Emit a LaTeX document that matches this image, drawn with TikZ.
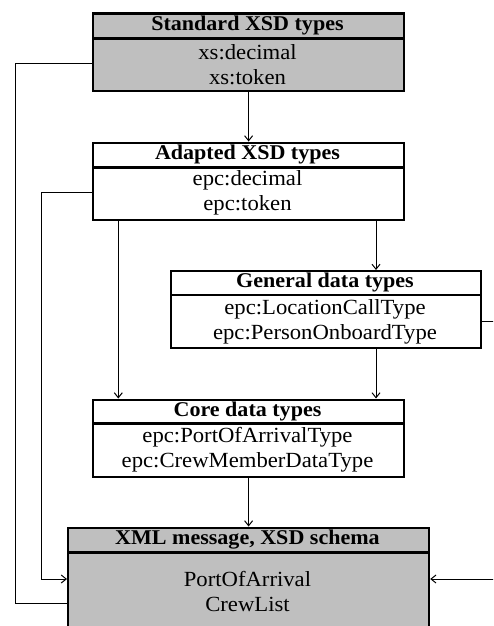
\documentclass[tikz,border=0pt]{standalone}
\usepackage{fontspec}
\setmainfont{Liberation Serif}[FakeStretch=1.05]
\usetikzlibrary{arrows.meta,calc}
\definecolor{grayfill}{RGB}{191,191,191}
\begin{document}
\begin{tikzpicture}[x=1pt,y=-1pt,
  boxframe/.style={draw=black, line width=2.2pt, inner sep=0pt, anchor=north west},
  sepline/.style={draw=black, line width=2.2pt},
  conn/.style={draw=black, line width=1pt},
  arr/.style={conn, -{Straight Barb[length=5pt,width=8pt]}},
  ttl/.style={font=\fontsize{21}{25}\selectfont\bfseries, inner sep=0pt},
  txt/.style={font=\fontsize{21.6}{25}\selectfont, inner sep=0pt}]
\useasboundingbox (0,0) rectangle (493,626);
\clip (0,0) rectangle (493,626);

% boxes
\node[boxframe, fill=grayfill, minimum width=311pt, minimum height=77pt] (std) at (92,12.5) {};
\node[boxframe, fill=white, minimum width=311pt, minimum height=77pt] (adp) at (92,141.5) {};
\node[boxframe, fill=white, minimum width=310pt, minimum height=77pt] (gen) at (170,270) {};
\node[boxframe, fill=white, minimum width=311pt, minimum height=77.5pt] (core) at (92,398.5) {};
\node[boxframe, fill=grayfill, minimum width=361pt, minimum height=130pt] (xml) at (67,526.5) {};

% header separators
\draw[sepline] ($(std.north west)+(0,26)$) -- ($(std.north east)+(0,26)$);
\draw[sepline] ($(adp.north west)+(0,26)$) -- ($(adp.north east)+(0,26)$);
\draw[sepline] ($(gen.north west)+(0,25)$) -- ($(gen.north east)+(0,25)$);
\draw[sepline] ($(core.north west)+(0,25)$) -- ($(core.north east)+(0,25)$);
\draw[sepline] ($(xml.north west)+(0,26)$) -- ($(xml.north east)+(0,26)$);

% texts
\node[ttl] (stdT) at (247.5,25) {Standard XSD types};
\node[txt] (stdA) at (247.5,52) {xs:decimal};
\node[txt] (stdB) at (247.5,77) {xs:token};

\node[ttl] (adpT) at (247.5,154) {Adapted XSD types};
\node[txt] (adpA) at (247.5,180) {epc:decimal};
\node[txt] (adpB) at (247.5,205) {epc:token};

\node[ttl] (genT) at (325,282.5) {General data types};
\node[txt] (genA) at (325,309) {epc:LocationCallType};
\node[txt] (genB) at (325,334) {epc:PersonOnboardType};

\node[ttl] (coreT) at (247.5,411) {Core data types};
\node[txt] (coreA) at (247.5,437) {epc:PortOfArrivalType};
\node[txt] (coreB) at (247.5,462) {epc:CrewMemberDataType};

\node[ttl] (xmlT) at (247.5,539.5) {XML message, XSD schema};
\node[txt] (xmlA) at (247.5,579) {PortOfArrival};
\node[txt] (xmlB) at (247.5,604) {CrewList};

% routing coordinates
\coordinate (l1a) at (15.7,63.3);
\coordinate (l1b) at (15.7,603.3);
\coordinate (l2a) at (41,192.3);
\coordinate (l2b) at (41,579);
\coordinate (c1) at (118.3,0);
\coordinate (c2) at (376,0);
\coordinate (r1) at (515,321);
\coordinate (r2) at (515,579);

% connectors
\draw[arr] (std.south) -- (adp.north);
\draw[conn] (std.west |- l1a) -- (l1a) -- (l1b) -- (xml.west |- l1b);
\draw[arr] (adp.west |- l2a) -- (l2a) -- (l2b) -- (xml.west |- l2b);
\draw[arr] (adp.south -| c1) -- (core.north -| c1);
\draw[arr] (adp.south -| c2) -- (gen.north -| c2);
\draw[arr] (gen.south -| c2) -- (core.north -| c2);
\draw[arr] (gen.east |- r1) -- (r1) -- (r2) -- (xml.east |- r2);
\draw[arr] (core.south) -- (xml.north);
\end{tikzpicture}
\end{document}
